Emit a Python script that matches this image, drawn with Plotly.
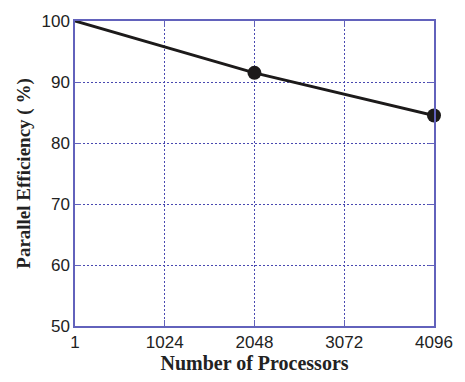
import plotly.graph_objects as go

# Scaling results: processor count vs parallel efficiency
processors = [1, 2048, 4096]
efficiency = [100, 91.5, 84.5]
marked = [False, True, True]

x_ticks = [1, 1024, 2048, 3072, 4096]
y_ticks = [50, 60, 70, 80, 90, 100]

axis_color = "#6262bc"
grid_color = "#4848b0"
serif = "Liberation Serif, Times New Roman, serif"
sans = "Liberation Sans, Arial, sans-serif"

fig = go.Figure()
fig.add_trace(go.Scatter(
    x=processors, y=efficiency, mode="lines",
    line=dict(color="#1c1a1a", width=3),
    showlegend=False, hoverinfo="skip",
))
fig.add_trace(go.Scatter(
    x=[p for p, m in zip(processors, marked) if m],
    y=[e for e, m in zip(efficiency, marked) if m],
    mode="markers",
    marker=dict(color="#1c1a1a", size=14),
    showlegend=False, cliponaxis=False,
))

common = dict(
    showline=True, linecolor=axis_color, linewidth=1.5, mirror="allticks",
    ticks="inside", ticklen=6, tickcolor=axis_color, tickwidth=1,
    showgrid=True, gridcolor=grid_color, gridwidth=1, griddash="2px,2px",
    zeroline=False,
    tickfont=dict(family=sans, size=17, color="#222"),
)

fig.update_xaxes(
    range=[1, 4096], tickvals=x_ticks, ticktext=[str(v) for v in x_ticks],
    title=dict(text="<b>Number of Processors</b>", standoff=4,
               font=dict(family=serif, size=20, color="#222")),
    **common,
)
fig.update_yaxes(
    range=[50, 100], tickvals=y_ticks,
    title=dict(text="<b>Parallel Efficiency ( %)</b>", standoff=6,
               font=dict(family=serif, size=19, color="#222")),
    **common,
)
fig.update_layout(
    width=465, height=382,
    margin=dict(l=75, r=22, t=17, b=55),
    plot_bgcolor="white", paper_bgcolor="white",
)

fig.write_html("out.html")
